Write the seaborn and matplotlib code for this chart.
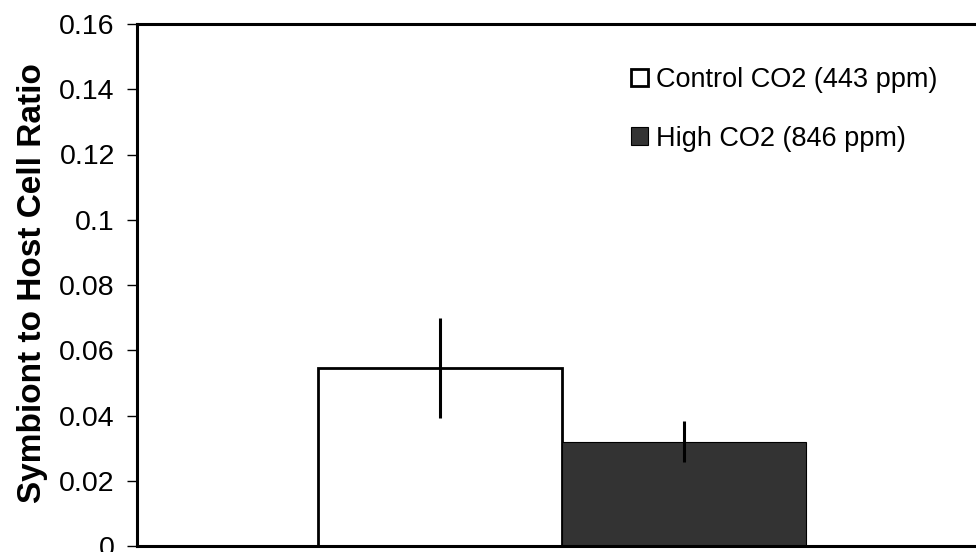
import matplotlib
matplotlib.use("Agg")
import matplotlib.pyplot as plt
from matplotlib.patches import Patch
import seaborn as sns
import pandas as pd

# Symbiont-to-host cell ratio under two CO2 treatments
treatments = ["Control CO2 (443 ppm)", "High CO2 (846 ppm)"]
ratio_mean = [0.0545, 0.0320]
ratio_err = [0.0153, 0.0062]
y_ticks = [0, 0.02, 0.04, 0.06, 0.08, 0.1, 0.12, 0.14, 0.16]
y_tick_labels = ["0", "0.02", "0.04", "0.06", "0.08", "0.1", "0.12", "0.14", "0.16"]

sns.set_theme(style="white")
plt.rcParams["font.family"] = ["Liberation Sans", "DejaVu Sans"]
plt.rcParams["text.color"] = "black"

df = pd.DataFrame({"group": [""] * len(treatments),
                   "treatment": treatments,
                   "ratio": ratio_mean})

fig = plt.figure(figsize=(9.76, 5.52), dpi=100)
ax = fig.add_axes([137 / 976, 1 - 546 / 552, 850 / 976, (546 - 24) / 552])

palette = {treatments[0]: "#ffffff", treatments[1]: "#333333"}
sns.barplot(data=df, x="group", y="ratio", hue="treatment", palette=palette,
            width=0.574, errorbar=None, saturation=1, legend=False, ax=ax)

# outline the bars and add the error bars at each bar centre
edge_widths = [2.0, 0.8]
for cont, lw, mean, err in zip(ax.containers, edge_widths, ratio_mean, ratio_err):
    for bar in cont:
        bar.set_edgecolor("black")
        bar.set_linewidth(lw)
        cx = bar.get_x() + bar.get_width() / 2
        ax.errorbar(cx, mean, yerr=err, fmt="none", ecolor="black",
                    elinewidth=2.2, capsize=0, zorder=5)

ax.set_xlim(-0.5, 0.5)
ax.set_ylim(0, 0.16)
ax.set_yticks(y_ticks)
ax.set_yticklabels(y_tick_labels)
ax.set_xticks([])
ax.set_xlabel("")
ax.set_ylabel("Symbiont to Host Cell Ratio", fontsize=24, fontweight="bold", color="black")
ax.yaxis.set_label_coords((48 - 137) / 850, (546 - 283) / 522)
ax.tick_params(axis="y", which="both", left=True, length=7, width=1.0,
               direction="out", labelsize=20.5, pad=9, colors="black")

for side in ["left", "top", "bottom"]:
    ax.spines[side].set_visible(True)
    ax.spines[side].set_color("black")
    ax.spines[side].set_linewidth(2.2)
ax.spines["right"].set_visible(False)

handles = [Patch(facecolor=palette[t], edgecolor="black", linewidth=2.0 if i == 0 else 0.8)
           for i, t in enumerate(treatments)]
leg = ax.legend(handles, treatments, loc="upper left",
                bbox_to_anchor=(631 / 976, 1 - 67 / 552), bbox_transform=fig.transFigure,
                frameon=False, fontsize=19.5, handlelength=0.62, handleheight=0.62,
                handletextpad=0.3, labelspacing=1.2, borderpad=0, borderaxespad=0)
for t in leg.get_texts():
    t.set_color("black")

fig.savefig("out.png", dpi=100)
